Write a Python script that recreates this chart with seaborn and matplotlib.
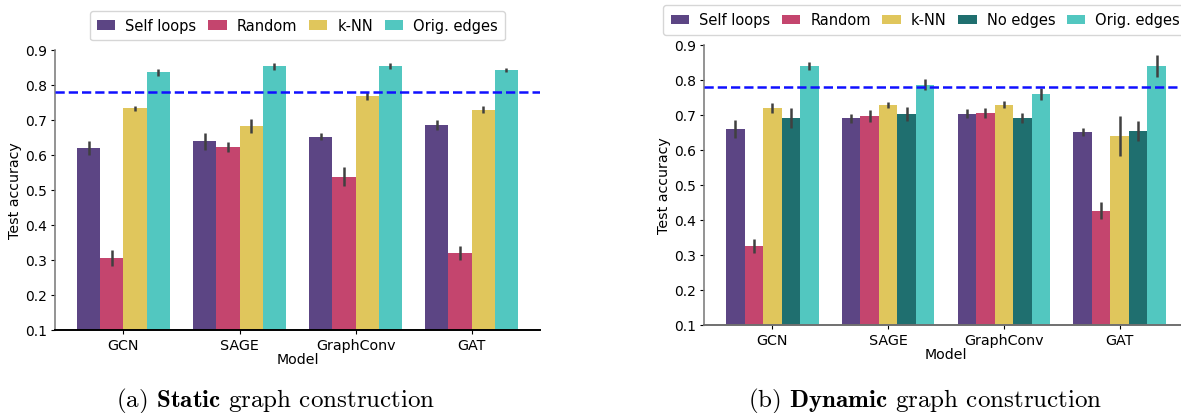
import pandas as pd
import seaborn as sns
import matplotlib
matplotlib.use("Agg")
import matplotlib.pyplot as plt

models = ["GCN", "SAGE", "GraphConv", "GAT"]

# (a) static graph construction
static_methods = ["Self loops", "Random", "k-NN", "Orig. edges"]
static_self = [0.619, 0.639, 0.651, 0.685]
static_random = [0.305, 0.622, 0.537, 0.320]
static_knn = [0.733, 0.682, 0.768, 0.728]
static_orig = [0.836, 0.853, 0.853, 0.842]
static_self_err = [0.020, 0.024, 0.010, 0.015]
static_random_err = [0.023, 0.015, 0.027, 0.019]
static_knn_err = [0.007, 0.019, 0.012, 0.010]
static_orig_err = [0.010, 0.010, 0.008, 0.006]

# (b) dynamic graph construction
dynamic_methods = ["Self loops", "Random", "k-NN", "No edges", "Orig. edges"]
dyn_self = [0.659, 0.690, 0.702, 0.650]
dyn_random = [0.325, 0.696, 0.705, 0.425]
dyn_knn = [0.719, 0.728, 0.728, 0.639]
dyn_noedges = [0.690, 0.702, 0.690, 0.653]
dyn_orig = [0.839, 0.785, 0.759, 0.839]
dyn_self_err = [0.025, 0.013, 0.013, 0.011]
dyn_random_err = [0.021, 0.016, 0.014, 0.024]
dyn_knn_err = [0.014, 0.008, 0.010, 0.057]
dyn_noedges_err = [0.028, 0.019, 0.014, 0.028]
dyn_orig_err = [0.011, 0.016, 0.018, 0.031]

baseline = 0.78

colors = {"Self loops": "#5c4584", "Random": "#c4456e", "k-NN": "#e0c65c",
          "No edges": "#1f6f6f", "Orig. edges": "#52c7c0"}


def to_frame(methods, accs, errs):
    rows = []
    for m, a, e in zip(methods, accs, errs):
        for model, v, s in zip(models, a, e):
            rows.append({"Model": model, "Method": m, "acc": v, "err": s})
    return pd.DataFrame(rows)


df_static = to_frame(static_methods,
                     [static_self, static_random, static_knn, static_orig],
                     [static_self_err, static_random_err, static_knn_err, static_orig_err])
df_dyn = to_frame(dynamic_methods,
                  [dyn_self, dyn_random, dyn_knn, dyn_noedges, dyn_orig],
                  [dyn_self_err, dyn_random_err, dyn_knn_err, dyn_noedges_err, dyn_orig_err])

plt.rcParams["mathtext.fontset"] = "cm"
plt.rcParams["font.family"] = ["DejaVu Sans"]

fig = plt.figure(figsize=(11.81, 4.14), dpi=100)
ax1 = fig.add_axes([0.0466, 0.2005, 0.4107, 0.677])
ax2 = fig.add_axes([0.5961, 0.2133, 0.4098, 0.6766])


def draw(ax, df, methods, bottom_color):
    sns.barplot(data=df, x="Model", y="acc", hue="Method", hue_order=methods,
                palette=colors, saturation=1, errorbar=None, ax=ax)
    # error bars on top of each bar
    for cont, m in zip(ax.containers, methods):
        sub = df[df["Method"] == m].set_index("Model").loc[models]
        xs = [b.get_x() + b.get_width() / 2 for b in cont]
        ax.errorbar(xs, sub["acc"].values, yerr=sub["err"].values, fmt="none",
                    ecolor="#404040", elinewidth=1.8, capsize=0, zorder=3)
    ax.axhline(baseline, color="#1010ff", ls="--", lw=1.8, zorder=4)
    ax.set_ylim(0.1, 0.9)
    ax.set_yticks([0.1, 0.2, 0.3, 0.4, 0.5, 0.6, 0.7, 0.8, 0.9])
    ax.set_xlabel("Model", fontsize=10.2, labelpad=0)
    ax.set_ylabel("Test accuracy", fontsize=10.2, labelpad=2)
    ax.tick_params(axis="y", labelsize=10, length=3, pad=3)
    ax.tick_params(axis="x", labelsize=10.3, length=3, pad=3)
    sns.despine(ax=ax)
    ax.spines["left"].set_color("#808080")
    ax.spines["left"].set_linewidth(1.2)
    ax.spines["bottom"].set_color(bottom_color)
    ax.spines["bottom"].set_linewidth(1.4)


draw(ax1, df_static, static_methods, "black")
draw(ax2, df_dyn, dynamic_methods, "#707070")

leg_kw = dict(fontsize=10.5, handlelength=1.25, handleheight=0.6, handletextpad=0.7,
              columnspacing=0.8, borderpad=0.5, bbox_transform=fig.transFigure)
ax1.legend(ncol=4, loc="center", bbox_to_anchor=(0.2519, 0.9356), **leg_kw)
ax2.legend(ncol=5, loc="center left", bbox_to_anchor=(0.5555, 0.9497), **leg_kw)

fig.text(0.233, 0.03, r"(a) $\mathbf{Static}$ graph construction",
         family="cmr10", fontsize=18, ha="center", va="center")
fig.text(0.783, 0.03, r"(b) $\mathbf{Dynamic}$ graph construction",
         family="cmr10", fontsize=18, ha="center", va="center")

plt.savefig("out.png", dpi=100)
